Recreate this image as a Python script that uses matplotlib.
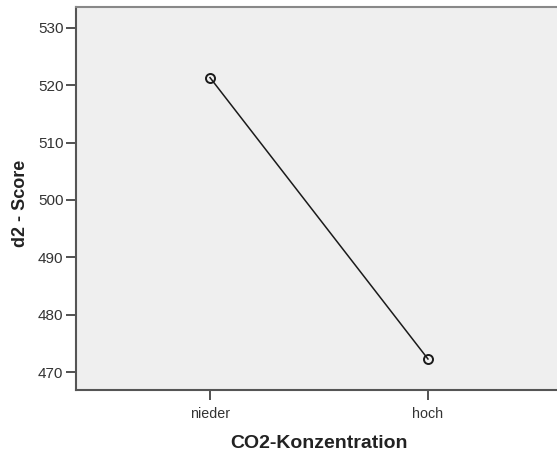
import matplotlib
matplotlib.use("Agg")
import matplotlib.pyplot as plt

categories = ["nieder", "hoch"]
scores = [521.3, 472.3]
yticks = [470, 480, 490, 500, 510, 520, 530]

plt.rcParams['font.family'] = ['Liberation Sans', 'DejaVu Sans']

fig = plt.figure(figsize=(5.57, 4.53), dpi=100)
ax = fig.add_axes([76/557, (453-390)/453, (562-76)/557, (390-7)/453])
ax.set_facecolor('#efefef')

x = list(range(len(categories)))
ax.plot(x, scores, color='#1a1a1a', linewidth=1.1, marker='o', markersize=6.5,
        markerfacecolor='none', markeredgecolor='#1a1a1a', markeredgewidth=1.4)

ax.set_xlim(-0.615, 1.615)
ax.set_ylim(466.9, 533.6)
ax.set_xticks(x)
ax.set_xticklabels(categories)
ax.set_yticks(yticks)
ax.tick_params(axis='both', direction='out', length=7, width=1.2, color='#333333',
               labelcolor='#333333')
ax.tick_params(axis='y', labelsize=11, pad=2)
ax.tick_params(axis='x', labelsize=10.3, pad=5)

for s in ['left', 'bottom']:
    ax.spines[s].set_color('#555555')
    ax.spines[s].set_linewidth(1.5)
ax.spines['top'].set_color('#888888')
ax.spines['top'].set_linewidth(1.5)
ax.spines['right'].set_visible(False)

ax.set_xlabel('CO2-Konzentration', fontsize=14, fontweight='bold', color='#222222', labelpad=10)
ax.set_ylabel('d2 - Score', fontsize=13, fontweight='bold', color='#222222')
ax.yaxis.set_label_coords(-0.097, 0.488)

fig.savefig('out.png', dpi=100, facecolor='white')
